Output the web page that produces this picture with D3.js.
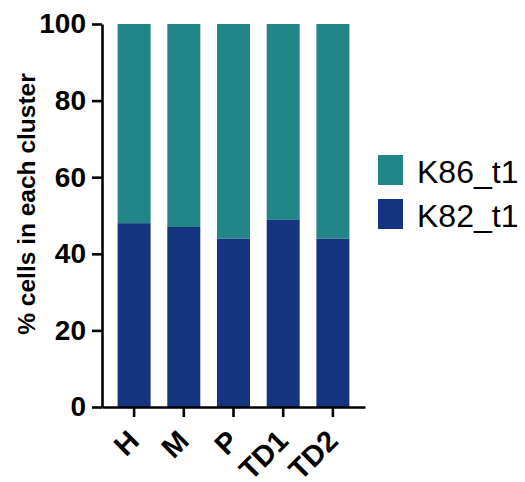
<!DOCTYPE html>
<html>
<head>
<meta charset="utf-8">
<script src="https://cdn.jsdelivr.net/npm/d3@7"></script>
<style>
  body { margin: 0; background: #fff; }
  svg text { font-family: "Liberation Sans", Arial, sans-serif; }
</style>
</head>
<body>
<div id="chart"></div>
<script>
const groups = ["H", "M", "P", "TD1", "TD2"];
const k82 = [48, 47, 44, 49, 44];
const k86 = [52, 53, 56, 51, 56];
const seriesNames = ["K86_t1", "K82_t1"];
const yTicks = [0, 20, 40, 60, 80, 100];

const width = 525, height = 482;
const colors = { "K86_t1": "#228689", "K82_t1": "#15347f" };

const svg = d3.select('#chart').append('svg')
  .attr('width', width)
  .attr('height', height);

const xScale = d3.scaleBand()
  .domain(groups)
  .range([102, 365])
  .paddingInner(0.336)
  .paddingOuter(0.314);

const yScale = d3.scaleLinear()
  .domain([0, 100])
  .range([407, 24]);

const rows = groups.map((g, i) => ({ group: g, K82_t1: k82[i], K86_t1: k86[i] }));
const stacked = d3.stack().keys(["K82_t1", "K86_t1"])(rows);

svg.selectAll('g.layer')
  .data(stacked)
  .enter()
  .append('g')
  .attr('class', 'layer')
  .attr('fill', d => colors[d.key])
  .selectAll('rect')
  .data(d => d)
  .enter()
  .append('rect')
  .attr('x', d => xScale(d.data.group))
  .attr('width', xScale.bandwidth())
  .attr('y', d => yScale(d[1]))
  .attr('height', d => yScale(d[0]) - yScale(d[1]));

// y axis
const yAxis = svg.append('g')
  .attr('transform', 'translate(102,0)')
  .call(d3.axisLeft(yScale).tickValues(yTicks).tickSize(10).tickSizeOuter(0).tickPadding(6));
yAxis.selectAll('text')
  .attr('font-size', 28)
  .attr('font-weight', 'bold')
  .attr('fill', '#000');

// x axis
const xAxis = svg.append('g')
  .attr('transform', 'translate(0,407)')
  .call(d3.axisBottom(xScale).tickSize(10).tickSizeOuter(0));
xAxis.selectAll('text')
  .attr('font-size', 29)
  .attr('font-weight', 'bold')
  .attr('fill', '#000')
  .attr('text-anchor', 'end')
  .attr('dy', null)
  .attr('y', 0)
  .attr('transform', 'translate(-8,21) rotate(-45)')
  .attr('dominant-baseline', 'hanging');

svg.selectAll('.domain, .tick line')
  .attr('stroke', '#000')
  .attr('stroke-width', 2.6);

// y title
svg.append('text')
  .attr('transform', 'translate(35,204) rotate(-90)')
  .attr('text-anchor', 'middle')
  .attr('font-size', 24.5)
  .attr('font-weight', 'bold')
  .text('% cells in each cluster');

// legend
const legend = svg.selectAll('g.legend')
  .data(seriesNames)
  .enter()
  .append('g')
  .attr('class', 'legend')
  .attr('transform', (d, i) => `translate(378,${155 + i * 44})`);

legend.append('rect')
  .attr('width', 25)
  .attr('height', 30)
  .attr('fill', d => colors[d]);

legend.append('text')
  .attr('x', 39)
  .attr('y', 28)
  .attr('font-size', 32)
  .text(d => d);
</script>
</body>
</html>
